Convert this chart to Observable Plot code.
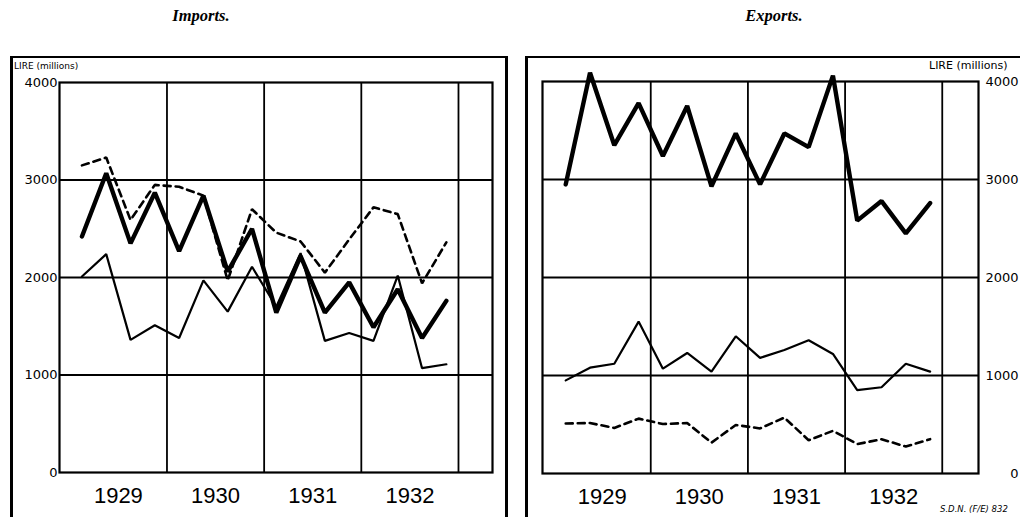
<!DOCTYPE html>
<html><head><meta charset="utf-8">
<script src="https://cdn.jsdelivr.net/npm/d3@7"></script>
<script src="https://cdn.jsdelivr.net/npm/@observablehq/plot@0.6"></script>
<style>
html,body{margin:0;padding:0;background:#fff;width:1020px;height:517px;overflow:hidden;}
#wrap{position:relative;width:1020px;height:517px;overflow:hidden;}
.panel{position:absolute;top:40px;}
.title{position:absolute;top:6px;font-family:"Liberation Serif","DejaVu Serif",serif;font-style:italic;font-weight:bold;font-size:16.5px;transform:translateX(-50%);white-space:nowrap;color:#000;}
.unit{position:absolute;font-family:"DejaVu Sans",sans-serif;color:#000;white-space:nowrap;}
.frame{position:absolute;box-sizing:border-box;pointer-events:none;border-color:#000;border-style:solid;}
.cap{position:absolute;font-family:"DejaVu Sans",sans-serif;font-style:italic;font-size:8.5px;white-space:nowrap;color:#000;}
</style></head><body><div id="wrap"></div>
<script>
// Quarterly data, 1929 Q1 .. 1932 Q4 (lire, millions)
const years      = [1929,1929,1929,1929,1930,1930,1930,1930,1931,1931,1931,1931,1932,1932,1932,1932];
const quarterNum = [1,2,3,4,1,2,3,4,1,2,3,4,1,2,3,4];

const importsHeavy  = [2420,3070,2350,2870,2270,2840,2060,2500,1640,2220,1640,1950,1490,1880,1380,1760];
const importsLight  = [2010,2240,1360,1510,1380,1970,1650,2110,1700,2250,1350,1430,1350,2020,1070,1110];
const importsDashed = [3150,3230,2590,2950,2930,2840,1970,2700,2460,2370,2050,2390,2720,2650,1940,2360];

const exportsHeavy  = [2950,4090,3350,3780,3240,3750,2930,3470,2950,3470,3330,4060,2580,2780,2450,2760];
const exportsLight  = [950,1080,1120,1550,1070,1230,1040,1400,1180,1260,1360,1220,850,880,1120,1040];
const exportsDashed = [510,515,465,560,505,515,315,495,460,570,340,435,300,350,275,350];

const yTicks = [0,1000,2000,3000,4000];
const gridValues = [1000,2000,3000];
const gridYears = [1930,1931,1932,1933];
const labelYears = [1929,1930,1931,1932];

const quarterPos = years.map((y,i) => y + (quarterNum[i] - 0.5) / 4);
const rows = vals => vals.map((v,i) => ({x: quarterPos[i], v}));

function panel({heavy, light, dashed, side, width, mL, mR, mT, mB, xDomain, labelDx, spacing}) {
  const svg = Plot.plot({
    width, height: 477,
    marginLeft: mL, marginRight: mR, marginTop: mT, marginBottom: mB,
    x: {domain: xDomain, axis: null},
    y: {domain: [0,4000], axis: null},
    style: {background: "transparent", overflow: "visible"},
    marks: [
      Plot.ruleY(gridValues, {stroke: "#000", strokeWidth: 2.2}),
      Plot.ruleX(gridYears, {stroke: "#000", strokeWidth: 1.8}),
      Plot.frame({stroke: "#000", strokeWidth: 2.2}),
      Plot.lineY(rows(dashed), {x: "x", y: "v", stroke: "#000", strokeWidth: 2.6, strokeDasharray: "7,5", strokeLinejoin: "miter"}),
      Plot.lineY(rows(light), {x: "x", y: "v", stroke: "#000", strokeWidth: 2.2, strokeLinejoin: "miter"}),
      Plot.lineY(rows(heavy), {x: "x", y: "v", stroke: "#000", strokeWidth: 4.4, strokeLinejoin: "miter"}),
      Plot.text(labelYears, {x: d => d + 0.5, text: d => String(d), frameAnchor: "bottom", dy: 23, lineAnchor: "middle",
        fontSize: 22, fontFamily: "Liberation Sans, Arial, sans-serif", fill: "#000"}),
      Plot.text(yTicks, {y: d => d, text: d => String(d), frameAnchor: side, textAnchor: "end", dx: labelDx, lineAnchor: "middle",
        fontSize: 13, fontFamily: "DejaVu Sans, sans-serif", fill: "#000", ariaLabel: "ytick"})
    ]
  });
  d3.select(svg).selectAll('g[aria-label="ytick"] text').style("letter-spacing", spacing);
  return svg;
}

const wrap = document.getElementById("wrap");

const left = panel({heavy: importsHeavy, light: importsLight, dashed: importsDashed, side: "left",
  width: 510, mL: 59, mR: 18, mT: 42, mB: 45, xDomain: [1928.894, 1933.35], labelDx: -2, spacing: "1.8px"});
left.classList.add("panel"); left.style.left = "0px";
wrap.appendChild(left);

const right = panel({heavy: exportsHeavy, light: exportsLight, dashed: exportsDashed, side: "right",
  width: 510, mL: 32, mR: 42, mT: 41, mB: 44, xDomain: [1928.886, 1933.373], labelDx: 40, spacing: "1.2px"});
right.classList.add("panel"); right.style.left = "510px";
wrap.appendChild(right);

function addDiv(cls, text, css) {
  const d = document.createElement("div");
  d.className = cls; if (text) d.textContent = text;
  Object.assign(d.style, css); wrap.appendChild(d); return d;
}
addDiv("title", "Imports.", {left: "201px"});
addDiv("title", "Exports.", {left: "774px"});
addDiv("unit", "LIRE (millions)", {left: "14px", top: "61px", fontSize: "9px"});
addDiv("unit", "LIRE (millions)", {left: "929px", top: "58.5px", fontSize: "11px"});
addDiv("frame", "", {left: "10px", top: "56px", width: "498px", height: "480px", borderWidth: "2.5px 3px 0 3px"});
addDiv("frame", "", {left: "525px", top: "56px", width: "520px", height: "480px", borderWidth: "2.5px 0 0 3px"});
addDiv("cap", "S.D.N. (F/E) 832", {left: "940px", top: "504px"});
</script></body></html>
